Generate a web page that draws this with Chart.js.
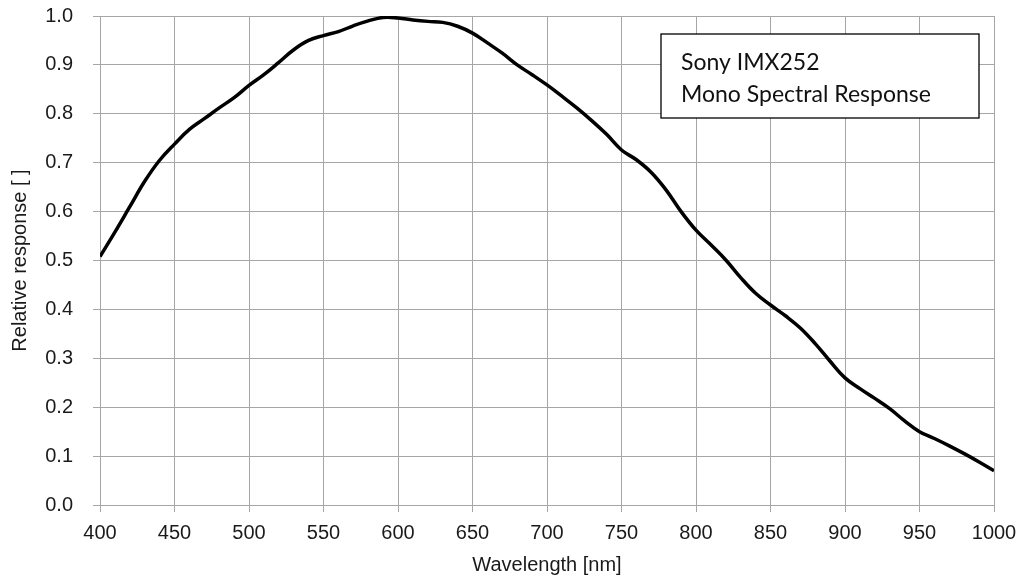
<!DOCTYPE html>
<html lang="en">
  <head>
    <meta charset="UTF-8" />
    <title>Sony IMX252 Mono Spectral Response</title>
    <script src="https://cdn.jsdelivr.net/npm/chart.js"></script>
    <style>
      html, body { margin: 0; padding: 0; background: #fff; }
      #wrap { width: 1027px; height: 584px; }
    </style>
  </head>
  <body>
    <div id="wrap"><canvas id="spectrum"></canvas></div>
    <script>
      // wavelength in nm, every 10 nm
      const wavelengths = [
        400, 410, 420, 430, 440, 450, 460, 470, 480, 490,
        500, 510, 520, 530, 540, 550, 560, 570, 580, 590,
        600, 610, 620, 630, 640, 650, 660, 670, 680, 690,
        700, 710, 720, 730, 740, 750, 760, 770, 780, 790,
        800, 810, 820, 830, 840, 850, 860, 870, 880, 890,
        900, 910, 920, 930, 940, 950, 960, 970, 980, 990, 1000
      ];
      // relative response
      const response = [
        0.508, 0.558, 0.610, 0.662, 0.705, 0.738, 0.768, 0.790, 0.812, 0.833,
        0.858, 0.880, 0.905, 0.931, 0.950, 0.960, 0.968, 0.980, 0.990, 0.997,
        0.996, 0.992, 0.989, 0.987, 0.979, 0.965, 0.945, 0.924, 0.900, 0.880,
        0.859, 0.836, 0.812, 0.786, 0.758, 0.726, 0.706, 0.680, 0.644, 0.600,
        0.562, 0.532, 0.501, 0.465, 0.433, 0.409, 0.387, 0.362, 0.330, 0.294,
        0.260, 0.238, 0.218, 0.197, 0.172, 0.150, 0.136, 0.121, 0.105, 0.088, 0.070
      ];
      const noteLines = ["Sony IMX252", "Mono Spectral Response"];

      const gridGrey = "#a6a6a6";
      const axisFont = { family: "'Liberation Sans', Arial, sans-serif", size: 20 };

      // text box in the upper right corner
      const noteBox = {
        id: "noteBox",
        afterDraw(chart) {
          const ctx = chart.ctx;
          const a = chart.chartArea;
          const x = a.right - 333, y = a.top + 18, w = 318, h = 84;
          ctx.save();
          ctx.fillStyle = "#fff";
          ctx.fillRect(x, y, w, h);
          ctx.strokeStyle = "#000";
          ctx.lineWidth = 1.3;
          ctx.strokeRect(x, y, w, h);
          ctx.fillStyle = "#111";
          ctx.font = "23px Lato, 'Open Sans', sans-serif";
          ctx.textBaseline = "middle";
          ctx.fillText(noteLines[0], x + 20, y + 29);
          ctx.fillText(noteLines[1], x + 20, y + 61);
          ctx.restore();
        }
      };

      new Chart(document.getElementById("spectrum"), {
        type: "line",
        data: {
          datasets: [
            {
              data: wavelengths.map((w, i) => ({ x: w, y: response[i] })),
              borderColor: "#000",
              borderWidth: 3.5,
              pointRadius: 0,
              tension: 0.4,
              fill: false
            }
          ]
        },
        options: {
          responsive: true,
          maintainAspectRatio: false,
          animation: false,
          layout: { padding: { top: 0, right: 33, left: 0, bottom: 0 } },
          plugins: { legend: { display: false }, tooltip: { enabled: false } },
          scales: {
            x: {
              type: "linear",
              min: 400,
              max: 1000,
              afterFit(scale) { scale.height = 79; },
              ticks: {
                stepSize: 50,
                color: "#1a1a1a",
                font: axisFont,
                padding: 9,
                maxRotation: 0,
                callback: (v) => String(v)
              },
              grid: { color: gridGrey, tickLength: 7, lineWidth: 1 },
              border: { color: gridGrey },
              title: {
                display: true,
                text: "Wavelength [nm]",
                color: "#1a1a1a",
                font: axisFont,
                padding: { top: 0, bottom: 7 }
              }
            },
            y: {
              min: 0,
              max: 1,
              afterFit(scale) {
                scale.width = 100;
                scale.paddingTop = 16;
              },
              ticks: {
                stepSize: 0.1,
                color: "#1a1a1a",
                font: axisFont,
                padding: 20,
                callback: (v) => v.toFixed(1)
              },
              grid: { color: gridGrey, tickLength: 7, lineWidth: 1 },
              border: { color: gridGrey },
              title: {
                display: true,
                text: "Relative response [ ]",
                color: "#1a1a1a",
                font: axisFont,
                padding: { top: 8, bottom: 0 }
              }
            }
          }
        },
        plugins: [noteBox]
      });
    </script>
  </body>
</html>
